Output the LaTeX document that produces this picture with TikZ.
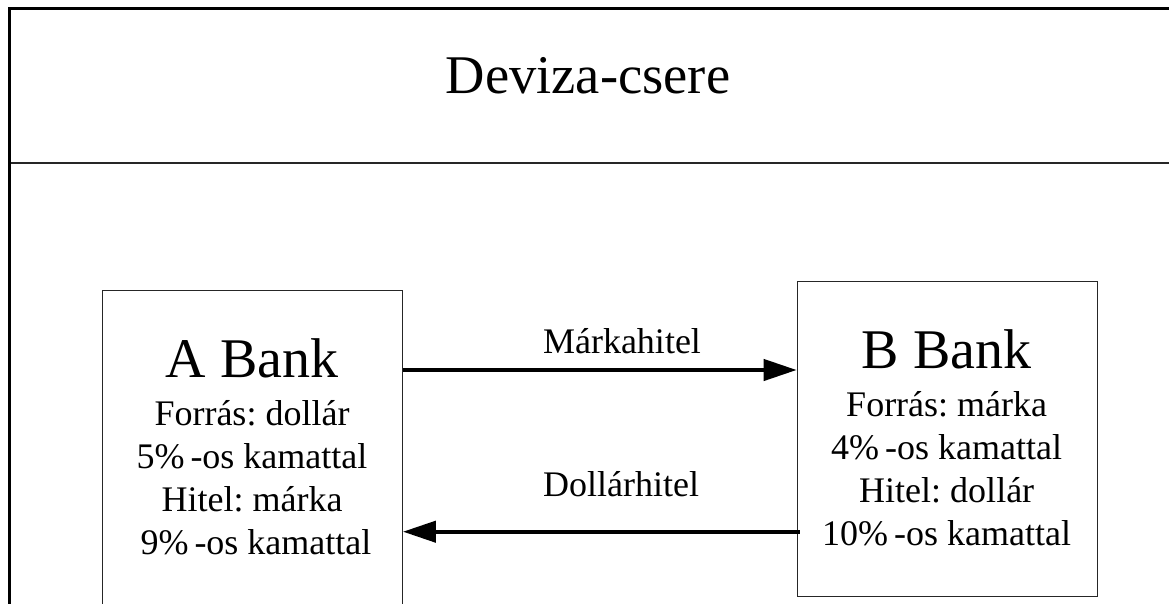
\documentclass[tikz,border=0pt]{standalone}
\usepackage{fontspec}
\setmainfont{Liberation Serif}
\usetikzlibrary{arrows.meta}
\frenchspacing
\begin{document}
\begin{tikzpicture}[x=1pt,y=-1pt,
  frame/.style={line width=3pt,line cap=rect},
  divider/.style={line width=1.5pt,black!85},
  bankbox/.style={draw=black!85,line width=1.2pt,rectangle,minimum width=300pt,inner sep=0pt},
  bigtxt/.style={anchor=base,inner sep=0pt,font=\fontsize{56}{60}\selectfont},
  smalltxt/.style={anchor=base,inner sep=0pt,font=\fontsize{36}{43}\selectfont},
  flow/.style={line width=4.2pt,-{Triangle[length=33pt,width=21pt]}}]
  \useasboundingbox (0,0) rectangle (1169,603);
  \clip (0,0) rectangle (1169,603);

  % outer frame: left and top edges, and the divider under the title
  \coordinate (fl) at (9.3,640);
  \coordinate (ftl) at (9.3,8.8);
  \coordinate (ftr) at (1175,8.8);
  \draw[frame] (fl) -- (ftl) -- (ftr);
  \coordinate (dl) at (10.5,163);
  \coordinate (dr) at (1175,163);
  \draw[divider] (dl) -- (dr);

  % title
  \node[anchor=base,inner sep=0pt,font=\fontsize{54.5}{60}\selectfont] (title) at (588,93.3) {Deviza-csere};

  % the two banks
  \node[bankbox,minimum height=360pt,anchor=north west] (A) at (101.7,290) {};
  \node[bankbox,minimum height=315pt,anchor=north west] (B) at (796.7,281) {};

  \node[bigtxt] (Aname) at (252,377) {A Bank};
  \node[smalltxt] (A1) at (252,425.7) {Forrás: dollár};
  \node[smalltxt] (A2) at (252,468.7) {5\%\,-os kamattal};
  \node[smalltxt] (A3) at (252,511.7) {Hitel: márka};
  \node[smalltxt] (A4) at (256,554.7) {9\%\,-os kamattal};

  \node[bigtxt] (Bname) at (946.7,368) {B Bank};
  \node[smalltxt] (B1) at (946.7,416.7) {Forrás: márka};
  \node[smalltxt] (B2) at (946.7,459.7) {4\%\,-os kamattal};
  \node[smalltxt] (B3) at (946.7,502.7) {Hitel: dollár};
  \node[smalltxt] (B4) at (946.7,545.7) {10\%\,-os kamattal};

  % loans exchanged between the banks
  \coordinate (y1) at (0,370);
  \coordinate (y2) at (0,531.7);
  \draw[flow] (A.east |- y1) -- (B.west |- y1);
  \draw[flow] (B.west |- y2) ++(3,0) -- (A.east |- y2);
  \node[smalltxt] (l1) at (622,353) {Márkahitel};
  \node[smalltxt] (l2) at (621,496.7) {Dollárhitel};
\end{tikzpicture}
\end{document}
